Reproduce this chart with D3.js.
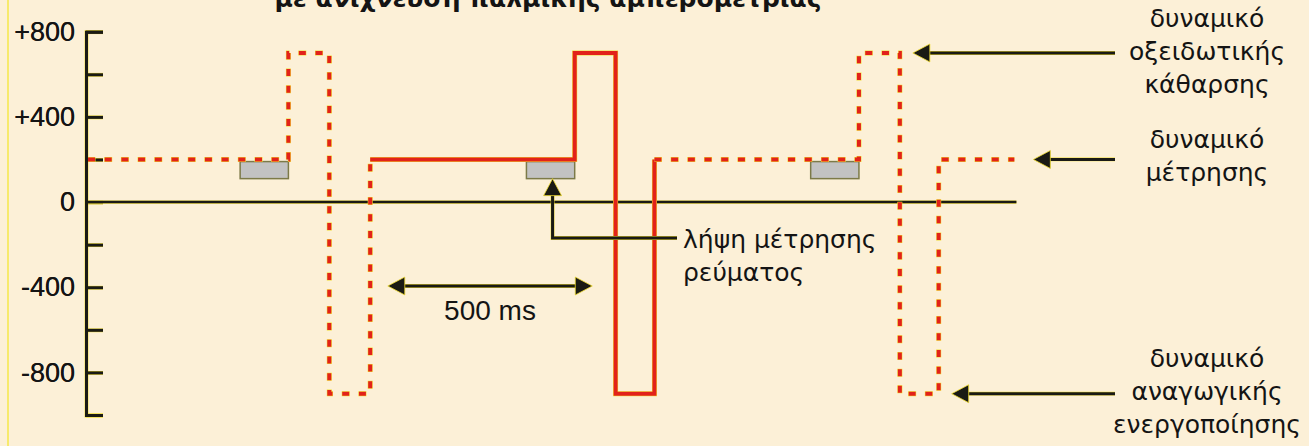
<!DOCTYPE html>
<html>
<head>
<meta charset="utf-8">
<script src="https://cdn.jsdelivr.net/npm/d3@7"></script>
<style>
  html, body { margin: 0; padding: 0; background: #fcf0d7; overflow: hidden; }
  svg { display: block; }
  .greek { font-family: "DejaVu Sans", sans-serif; font-size: 25px; fill: #141414; }
  .num { font-family: "Liberation Sans", Arial, sans-serif; fill: #141414; }
</style>
</head>
<body>
<svg id="chart"></svg>
<script>
// Waveform steps (time in ms, potential in mV): the potential steps to each value at that time
const stepTimes = [0, 490, 590, 690, 1190, 1290, 1385, 1885, 1985, 2080, 2265];
const stepPotentials = [200, 700, -900, 200, 700, -900, 200, 700, -900, 200, 200];
// which steps are the highlighted (solid) cycle
const solidFrom = 3, solidTo = 6;

// Current sampling windows (ms) at the end of each measuring step
const sampleWindows = [[372, 490], [1072, 1190], [1767, 1885]];
const sampleRange = [190, 110];

const yTicks = [800, 600, 400, 200, 0, -200, -400, -600, -800, -1000];
const yLabels = [800, 400, 0, -400, -800];

const title = "με ανίχνευση παλμικής αμπερομετρίας";
const labelOx = ["δυναμικό", "οξειδωτικής", "κάθαρσης"];
const labelMeas = ["δυναμικό", "μέτρησης"];
const labelRed = ["δυναμικό", "αναγωγικής", "ενεργοποίησης"];
const labelSample = ["λήψη μέτρησης", "ρεύματος"];
const spanLabel = "500 ms";
const spanTimes = [733, 1233];

const W = 1309, H = 446;
const RED = "#e2221a", HALO = "#f0dc30", INK = "#1a1a14";

const svg = d3.select("#chart").attr("width", W).attr("height", H);

svg.append("rect").attr("width", W).attr("height", H).attr("fill", "#fcf0d7");
svg.append("line").attr("x1", 8).attr("x2", 8).attr("y1", 0).attr("y2", H)
  .attr("stroke", "#f6e84a").attr("stroke-width", 1.5);

// Scales
const x = d3.scaleLinear().domain([0, 2270]).range([88, 1016.4]);
const y = d3.scaleLinear().domain([-1000, 800]).range([415, 31.7]);

// Title (cut at the top edge, as in the source slide)
svg.append("text")
  .attr("x", 548).attr("y", 7)
  .attr("text-anchor", "middle")
  .style("font-family", "'DejaVu Sans', sans-serif")
  .style("font-weight", "bold").style("font-size", "25px")
  .attr("fill", "#141414")
  .text(title);

// Y axis (drawn twice: yellow halo then ink)
const yAxis = d3.axisLeft(y)
  .tickValues(yTicks)
  .tickSizeInner(-17).tickSizeOuter(-17).tickPadding(11)
  .tickFormat(d => yLabels.includes(d) ? (d > 0 ? "+" + d : String(d)) : "");

[[HALO, 3.8], [INK, 3]].forEach(([c, w]) => {
  const g = svg.append("g").attr("transform", `translate(${x(0) - 2},0)`).call(yAxis);
  g.selectAll("path, line").attr("stroke", c).attr("stroke-width", w);
  g.selectAll("text").attr("class", "num").style("font-size", "27px")
    .attr("fill", c === HALO ? "none" : "#141414");
});

// Zero line
[[HALO, 3.3], [INK, 2.5]].forEach(([c, w]) => {
  svg.append("line")
    .attr("x1", x(0)).attr("x2", x(2270))
    .attr("y1", y(0)).attr("y2", y(0))
    .attr("stroke", c).attr("stroke-width", w);
});

// Sampling windows
svg.selectAll(".win").data(sampleWindows).enter().append("rect")
  .attr("class", "win")
  .attr("x", d => x(d[0])).attr("width", d => x(d[1]) - x(d[0]))
  .attr("y", y(sampleRange[0])).attr("height", y(sampleRange[1]) - y(sampleRange[0]))
  .attr("fill", "#c2c2c2").attr("stroke", "#7c7a48").attr("stroke-width", 1.5);

// Waveform
const pts = stepTimes.map((t, i) => [t, stepPotentials[i]]);
const line = d3.line().x(d => x(d[0])).y(d => y(d[1])).curve(d3.curveStepAfter);
const parts = [
  { p: pts.slice(0, solidFrom + 1), dashed: true },
  { p: pts.slice(solidFrom, solidTo + 1), dashed: false },
  { p: pts.slice(solidTo), dashed: true }
];
parts.forEach(s => {
  svg.append("path").attr("d", line(s.p)).attr("fill", "none")
    .attr("stroke", HALO).attr("stroke-width", 5)
    .attr("stroke-dasharray", s.dashed ? "8,8.7" : null)
    .attr("stroke-dashoffset", s.dashed ? 0.5 : null);
  svg.append("path").attr("d", line(s.p)).attr("fill", "none")
    .attr("stroke", RED).attr("stroke-width", 4)
    .attr("stroke-dasharray", s.dashed ? "7,9.7" : null);
});

// Arrow helpers
function arrowLine(pointsArr) {
  [[HALO, 3.8], [INK, 3]].forEach(([c, w]) => {
    svg.append("path").attr("d", d3.line()(pointsArr)).attr("fill", "none")
      .attr("stroke", c).attr("stroke-width", w);
  });
}
function head(tx, ty, dir) {
  // dir: "left", "right", "up"
  const L = 17, Hw = 9;
  let p;
  if (dir === "left") p = [[tx, ty], [tx + L, ty - Hw], [tx + L, ty + Hw]];
  else if (dir === "right") p = [[tx, ty], [tx - L, ty - Hw], [tx - L, ty + Hw]];
  else p = [[tx, ty], [tx - Hw, ty + L], [tx + Hw, ty + L]];
  svg.append("path").attr("d", d3.line()(p) + "Z")
    .attr("fill", INK).attr("stroke", HALO).attr("stroke-width", 0.8);
}

// Right-side label arrows
const rightArrows = [
  { t: 1985, e: 700, dx: 13 },
  { t: 2265, e: 200, dx: 19 },
  { t: 2080, e: -900, dx: 13 }
];
rightArrows.forEach(a => {
  const tx = x(a.t) + a.dx, ty = y(a.e);
  arrowLine([[tx + 10, ty], [1115, ty]]);
  head(tx, ty, "left");
});

// Sampling annotation
const sx = (x(sampleWindows[1][0]) + x(sampleWindows[1][1])) / 2 + 2;
arrowLine([[sx, y(sampleRange[1]) + 10], [sx, 238], [677, 238]]);
head(sx, y(sampleRange[1]), "up");

// 500 ms span
arrowLine([[x(spanTimes[0]) + 10, 286], [x(spanTimes[1]) - 10, 286]]);
head(x(spanTimes[0]), 286, "left");
head(x(spanTimes[1]), 286, "right");
svg.append("text").attr("class", "num")
  .attr("x", (x(spanTimes[0]) + x(spanTimes[1])) / 2).attr("y", 320)
  .attr("text-anchor", "middle").style("font-size", "28px")
  .text(spanLabel);

// Text blocks
function block(lines, cx, y0, anchor) {
  const t = svg.append("text").attr("class", "greek").attr("text-anchor", anchor);
  lines.forEach((s, i) => {
    t.append("tspan").attr("x", cx).attr("y", y0 + i * 33).text(s);
  });
}
block(labelOx, 1207, 27, "middle");
block(labelMeas, 1207, 148, "middle");
block(labelRed, 1207, 367, "middle");
block(labelSample, 683, 248, "start");
</script>
</body>
</html>
